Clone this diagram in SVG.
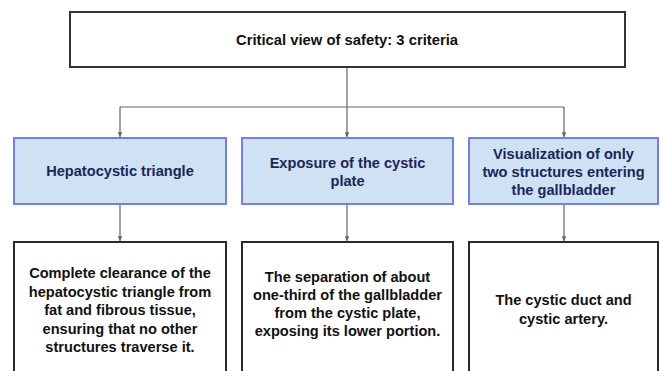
<svg xmlns="http://www.w3.org/2000/svg" width="661" height="371" viewBox="0 0 661 371">
  <style>
    .root { fill: #ffffff; stroke: #333333; stroke-width: 2; }
    .crit { fill: #cfe2f3; stroke: #7380e6; stroke-width: 2; }
    .desc { fill: #ffffff; stroke: #2a2a2a; stroke-width: 2; }
    .wire { fill: none; stroke: #666666; stroke-width: 1.2; }
    text { font-family: "Liberation Sans", Arial, sans-serif; font-weight: bold; font-size: 14.6px; text-anchor: middle; }
    .t-root { fill: #111111; font-size: 14.8px; }
    .t-crit { fill: #1b2658; }
    .t-desc { fill: #111111; }
  </style>
  <defs>
    <marker id="tip" viewBox="0 0 6 6" refX="6" refY="3" markerWidth="4" markerHeight="4" orient="auto">
      <path d="M0,0 L6,3 L0,6 z" fill="#666666"/>
    </marker>
  </defs>
  <rect width="661" height="371" fill="#ffffff"/>

  <g id="connectors">
    <path class="wire" d="M347,67 V107"/>
    <path class="wire" d="M120,107 H564"/>
    <path class="wire" d="M120,107 V137" marker-end="url(#tip)"/>
    <path class="wire" d="M347,107 V137" marker-end="url(#tip)"/>
    <path class="wire" d="M564,107 V137" marker-end="url(#tip)"/>
    <path class="wire" d="M120,204 V241" marker-end="url(#tip)"/>
    <path class="wire" d="M347,204 V241" marker-end="url(#tip)"/>
    <path class="wire" d="M564,204 V241" marker-end="url(#tip)"/>
  </g>

  <g id="root">
    <rect class="root" x="70" y="12" width="555" height="55"/>
    <text class="t-root" x="347" y="45">Critical view of safety: 3 criteria</text>
  </g>

  <g id="criterion-1">
    <rect class="crit" x="14" y="138" width="212" height="66"/>
    <text class="t-crit" x="120" y="176">Hepatocystic triangle</text>
  </g>
  <g id="criterion-2">
    <rect class="crit" x="242" y="138" width="211" height="66"/>
    <text class="t-crit" x="347.5" y="168">Exposure of the cystic</text>
    <text class="t-crit" x="347.5" y="186">plate</text>
  </g>
  <g id="criterion-3">
    <rect class="crit" x="469" y="138" width="189" height="66"/>
    <text class="t-crit" x="563.5" y="159">Visualization of only</text>
    <text class="t-crit" x="563.5" y="177">two structures entering</text>
    <text class="t-crit" x="563.5" y="195">the gallbladder</text>
  </g>

  <g id="detail-1">
    <rect class="desc" x="14" y="242" width="212" height="140"/>
    <text class="t-desc" x="120" y="278">Complete clearance of the</text>
    <text class="t-desc" x="120" y="296.5">hepatocystic triangle from</text>
    <text class="t-desc" x="120" y="315">fat and fibrous tissue,</text>
    <text class="t-desc" x="120" y="333.5">ensuring that no other</text>
    <text class="t-desc" x="120" y="352">structures traverse it.</text>
  </g>
  <g id="detail-2">
    <rect class="desc" x="242" y="242" width="211" height="140"/>
    <text class="t-desc" x="347.5" y="282">The separation of about</text>
    <text class="t-desc" x="347.5" y="300">one-third of the gallbladder</text>
    <text class="t-desc" x="347.5" y="318">from the cystic plate,</text>
    <text class="t-desc" x="347.5" y="336">exposing its lower portion.</text>
  </g>
  <g id="detail-3">
    <rect class="desc" x="469" y="242" width="189" height="140"/>
    <text class="t-desc" x="563.5" y="305">The cystic duct and</text>
    <text class="t-desc" x="563.5" y="324">cystic artery.</text>
  </g>
</svg>
